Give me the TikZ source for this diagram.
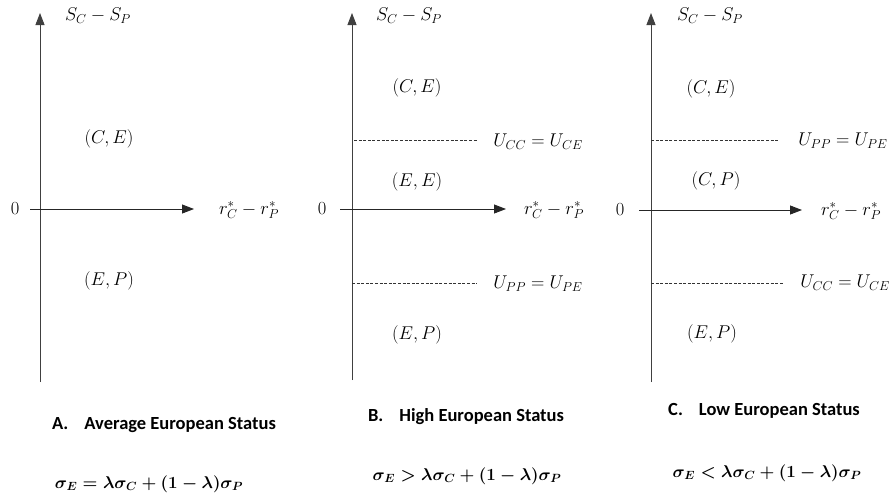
\RequirePackage{fix-cm}
\documentclass[tikz,border=0pt]{standalone}
\usepackage{fontspec}
\setsansfont{Carlito}
\usetikzlibrary{arrows.meta}
\tikzset{
  axis/.style={line width=0.9pt, draw=black!85, -{Triangle[length=12pt,width=9pt]}},
  vaxis/.style={line width=0.9pt, draw=black!75, -{Triangle[length=12pt,width=9pt]}},
  dline/.style={line width=0.7pt, draw=black!80, dash pattern=on 3pt off 1.6pt},
  lbl/.style={inner sep=0pt, font=\fontsize{18.5}{22}\selectfont},
  ttl/.style={inner sep=0pt, font=\sffamily\bfseries\fontsize{18.5}{22}\selectfont},
  frm/.style={inner sep=0pt, font=\fontsize{17}{20}\selectfont\boldmath}
}
\begin{document}
\begin{tikzpicture}[x=1pt,y=-1pt]
\useasboundingbox (0,0) rectangle (894,499);
% ---------- Panel A ----------
\coordinate (aB) at (40,382); \coordinate (aT) at (40,13);
\coordinate (aL) at (30,209); \coordinate (aR) at (194,209);
\draw[vaxis] (aB) -- (aT);
\draw[axis] (aL) -- (aR);
\node[lbl] (a0) at (15,209) {$0$};
\node[lbl] (ar) at (249,210) {$r_C^*-r_P^*$};
\node[lbl] (as) at (98,16) {$S_C-S_P$};
\node[lbl] (aCE) at (109,139) {$(C,E)$};
\node[lbl] (aEP) at (109,281) {$(E,P)$};
\node[ttl] (aT1) at (164,425) {A.\hspace{16pt}Average European Status};
\node[frm] (aF) at (149,484) {$\sigma_E=\lambda\sigma_C+(1-\lambda)\sigma_P$};
% ---------- Panel B ----------
\coordinate (bB) at (352,380); \coordinate (bT) at (352,13);
\coordinate (bL) at (340,209); \coordinate (bR) at (506,209);
\draw[vaxis] (bB) -- (bT);
\draw[axis] (bL) -- (bR);
\node[lbl] (b0) at (322,209) {$0$};
\node[lbl] (br) at (554,210) {$r_C^*-r_P^*$};
\node[lbl] (bs) at (409,16) {$S_C-S_P$};
\node[lbl] (bCE) at (417,88) {$(C,E)$};
\coordinate (bd1a) at (354,140); \coordinate (bd1b) at (477,140);
\draw[dline] (bd1a) -- (bd1b);
\node[lbl] (bU1) at (538,142) {$U_{CC}=U_{CE}$};
\node[lbl] (bEE) at (417,182) {$(E,E)$};
\coordinate (bd2a) at (352,283); \coordinate (bd2b) at (477,283);
\draw[dline] (bd2a) -- (bd2b);
\node[lbl] (bU2) at (538,284) {$U_{PP}=U_{PE}$};
\node[lbl] (bEP) at (417,335) {$(E,P)$};
\node[ttl] (bT1) at (466,417) {B.\hspace{16pt}High European Status};
\node[frm] (bF) at (467,476) {$\sigma_E>\lambda\sigma_C+(1-\lambda)\sigma_P$};
% ---------- Panel C ----------
\coordinate (cB) at (651,382); \coordinate (cT) at (651,13);
\coordinate (cL) at (639,210); \coordinate (cR) at (802,210);
\draw[vaxis] (cB) -- (cT);
\draw[axis] (cL) -- (cR);
\node[lbl] (c0) at (620,210) {$0$};
\node[lbl] (cr) at (851,211) {$r_C^*-r_P^*$};
\node[lbl] (cs) at (710,16) {$S_C-S_P$};
\node[lbl] (cCE) at (711,89) {$(C,E)$};
\coordinate (cd1a) at (651,140); \coordinate (cd1b) at (779,140);
\draw[dline] (cd1a) -- (cd1b);
\node[lbl] (cU1) at (843,141) {$U_{PP}=U_{PE}$};
\node[lbl] (cCP) at (716,181) {$(C,P)$};
\coordinate (cd2a) at (651,283); \coordinate (cd2b) at (784,283);
\draw[dline] (cd2a) -- (cd2b);
\node[lbl] (cU2) at (845,283) {$U_{CC}=U_{CE}$};
\node[lbl] (cEP) at (712,334) {$(E,P)$};
\node[ttl] (cT1) at (764,411) {C.\hspace{16pt}Low European Status};
\node[frm] (cF) at (767,473) {$\sigma_E<\lambda\sigma_C+(1-\lambda)\sigma_P$};
\end{tikzpicture}
\end{document}
